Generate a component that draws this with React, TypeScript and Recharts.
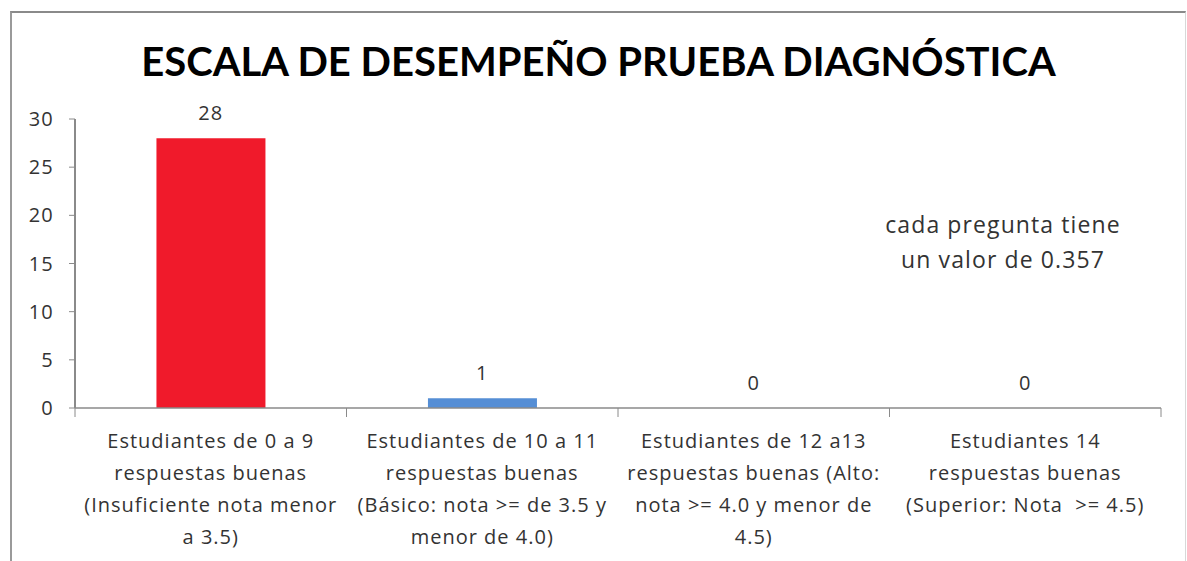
import { Bar, Cell, ComposedChart, LabelList, Line, XAxis, YAxis } from "recharts";

const categories = ["Estudiantes 0-9", "Estudiantes 10-11", "Estudiantes 12-13", "Estudiantes 14"];
const tickLines = [
  ["Estudiantes de 0 a 9", "respuestas buenas", "(Insuficiente nota menor", "a 3.5)"],
  ["Estudiantes de 10 a 11", "respuestas buenas", "(Básico: nota >= de 3.5 y", "menor de 4.0)"],
  ["Estudiantes de 12 a13", "respuestas buenas (Alto:", "nota >= 4.0 y menor de", "4.5)"],
  ["Estudiantes 14", "respuestas buenas", "(Superior: Nota  >= 4.5)"],
];
const counts = [28, 1, 0, 0];
const barColors = ["#f01a2b", "#558ed5", "#558ed5", "#558ed5"];
const yTicks = [0, 5, 10, 15, 20, 25, 30];

const title = "ESCALA DE DESEMPEÑO PRUEBA DIAGNÓSTICA";
const note = ["cada pregunta tiene", "un valor de 0.357"];

const data = categories.map((name, i) => ({ name, count: counts[i], idx: i }));

const font = "'Open Sans', Lato, sans-serif";
const axisGray = "#8a8a8a";
const textColor = "#333333";

// category labels + excel style tick marks between categories
function CategoryTick(props: any) {
  const { x, y, index, width, visibleTicksCount } = props;
  const lines = tickLines[index] || [];
  const band = width / visibleTicksCount;
  const axisY = y - 8;
  const isLast = index === visibleTicksCount - 1;
  return (
    <g>
      <line x1={x - band / 2} x2={x - band / 2} y1={axisY} y2={axisY + 9} stroke={axisGray} />
      {isLast && <line x1={x + band / 2} x2={x + band / 2} y1={axisY} y2={axisY + 9} stroke={axisGray} />}
      {lines.map((line: string, i: number) => (
        <text
          key={i}
          x={x}
          y={y + 32 + i * 32}
          textAnchor="middle"
          fontFamily={font}
          fontSize={20}
          letterSpacing={1}
          fill={textColor}
          style={{ whiteSpace: "pre" }}
        >
          {line}
        </text>
      ))}
    </g>
  );
}

export default function App() {
  return (
    <div style={{ position: "absolute", left: 0, top: 0, width: 1187, height: 561, background: "#fff", overflow: "hidden" }}>
      <div
        style={{
          position: "absolute",
          left: 10,
          top: 11,
          width: 1176,
          height: 560,
          borderLeft: "2px solid #9a9a9a",
          borderTop: "2px solid #8a8a8a",
          borderRight: "1px solid #d8d8d8",
          boxSizing: "border-box",
        }}
      />
      <div
        style={{
          position: "absolute",
          left: 5,
          width: 1187,
          top: 36,
          textAlign: "center",
          fontFamily: "Lato, sans-serif",
          fontWeight: 700,
          fontSize: 40,
          color: "#000",
          lineHeight: "50px",
        }}
      >
        {title}
      </div>
      <div
        style={{
          position: "absolute",
          left: 853,
          width: 300,
          top: 207,
          textAlign: "center",
          fontFamily: font,
          fontSize: 23,
          letterSpacing: 1.1,
          lineHeight: "35px",
          color: textColor,
        }}
      >
        {note.map((l) => (
          <div key={l}>{l}</div>
        ))}
      </div>
      <div style={{ position: "absolute", left: 0, top: 0 }}>
        <ComposedChart
          width={1187}
          height={561}
          data={data}
          margin={{ top: 119, right: 26, bottom: 13, left: 0 }}
          barCategoryGap="30%"
        >
          <XAxis
            dataKey="name"
            stroke={axisGray}
            axisLine={{ stroke: axisGray, strokeWidth: 1.5 }}
            tickLine={false}
            tick={<CategoryTick />}
            height={140}
            interval={0}
          />
          <YAxis
            domain={[0, 30]}
            ticks={yTicks}
            width={75}
            tickSize={6}
            tickMargin={15}
            axisLine={{ stroke: axisGray, strokeWidth: 2 }}
            tickLine={{ stroke: axisGray }}
            tick={{ fill: textColor, fontFamily: font, fontSize: 20, letterSpacing: 1.2 }}
          />
          <Bar dataKey="count" isAnimationActive={false}>
            {data.map((d) => (
              <Cell key={d.name} fill={barColors[d.idx]} />
            ))}
          </Bar>
          <Line dataKey="count" stroke="none" dot={false} activeDot={false} isAnimationActive={false}>
            <LabelList dataKey="count" position="top" offset={18} fill={textColor} fontFamily={font} fontSize={20} letterSpacing={1} />
          </Line>
        </ComposedChart>
      </div>
    </div>
  );
}
